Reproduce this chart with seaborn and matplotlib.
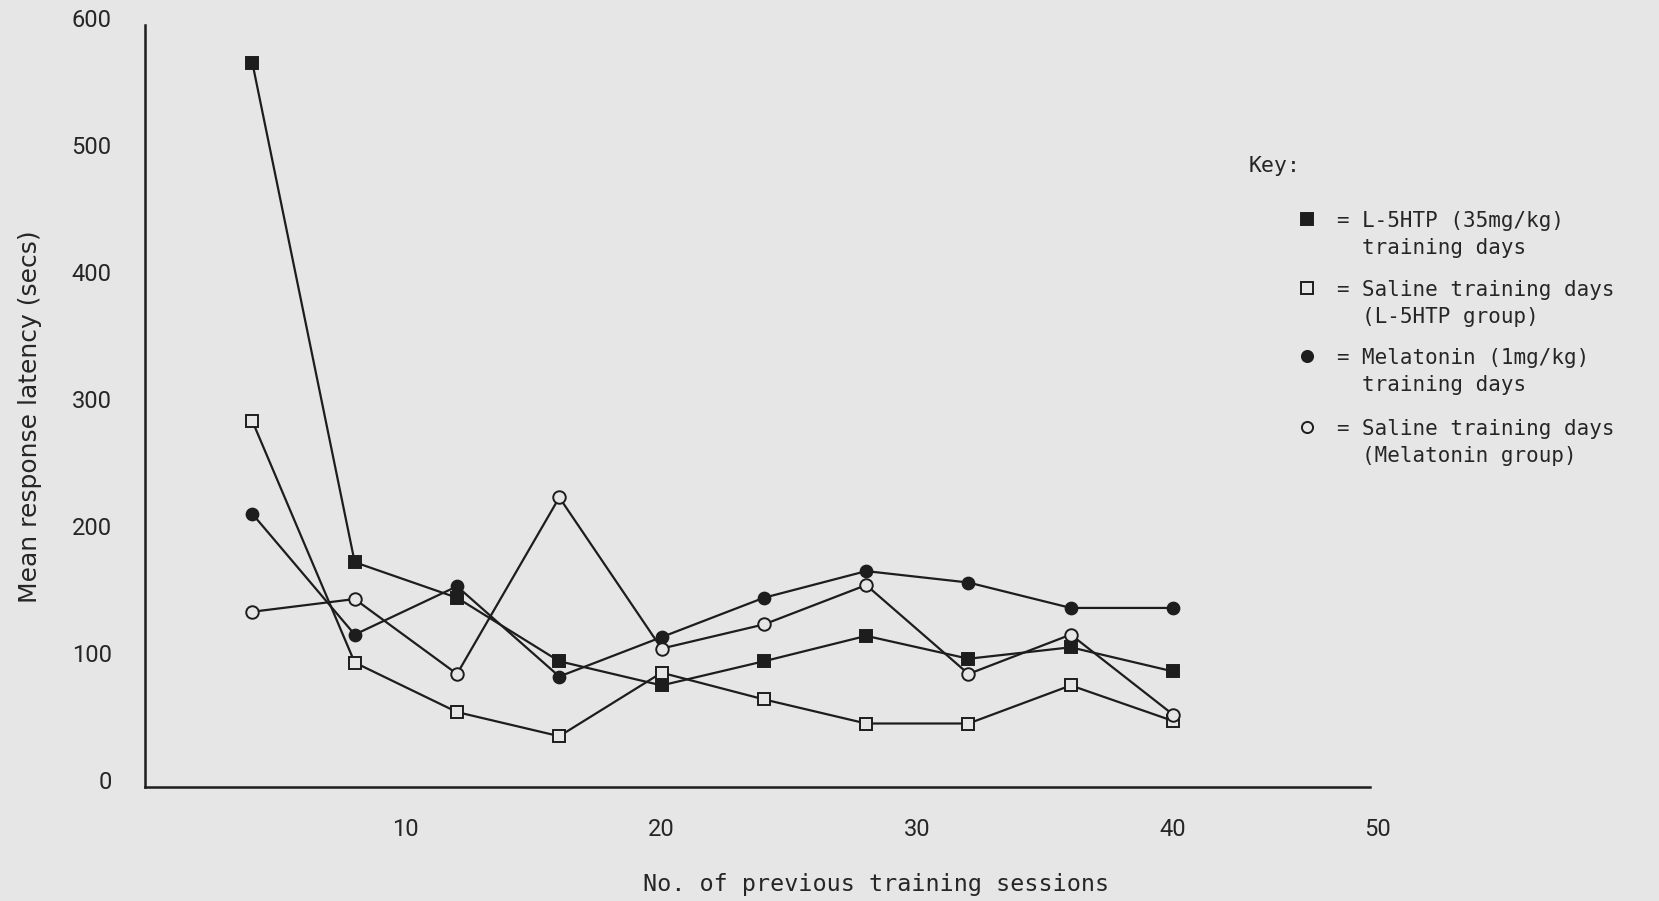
import matplotlib
matplotlib.use("Agg")
import matplotlib.pyplot as plt
import matplotlib.transforms as mtransforms
from matplotlib.lines import Line2D
import seaborn as sns

# --- data -------------------------------------------------------------
sessions = [4, 8, 12, 16, 20, 24, 28, 32, 36, 40]
l5htp = [570, 177, 149, 99, 80, 99, 119, 101, 110, 91]
saline_l5htp = [288, 98, 59, 40, 90, 69, 50, 50, 80, 52]
melatonin = [215, 120, 158, 87, 118, 149, 170, 161, 141, 141]
saline_melatonin = [138, 148, 89, 228, 109, 128, 159, 89, 120, 57]

y_ticks = [0, 100, 200, 300, 400, 500, 600]
x_tick_pos = [10, 20, 30, 40, 47.7]
x_tick_labels = ["10", "20", "30", "40", "50"]

key_labels = [
    ("L-5HTP (35mg/kg)", "training days"),
    ("Saline training days", "(L-5HTP group)"),
    ("Melatonin (1mg/kg)", "training days"),
    ("Saline training days", "(Melatonin group)"),
]

# --- style ------------------------------------------------------------
sns.set_theme(style="white")
plt.rcParams["font.family"] = ["Roboto", "DejaVu Sans"]
MONO = ["DejaVu Sans Mono"]
BG = "#e6e6e6"
INK = "#1d1d1d"
TXT = "#262626"

W, H = 1659, 901
fig = plt.figure(figsize=(W / 100, H / 100), dpi=100, facecolor=BG)
ax_l, ax_r, ax_b, ax_t = 145, 1370, 787, 25
ax = fig.add_axes([ax_l / W, 1 - ax_b / H, (ax_r - ax_l) / W, (ax_b - ax_t) / H])
ax.set_facecolor(BG)

series = [
    (l5htp, "s", INK, 8.5),
    (saline_l5htp, "s", BG, 8.5),
    (melatonin, "o", INK, 8.5),
    (saline_melatonin, "o", BG, 9),
]
for vals, mk, face, ms in series:
    sns.lineplot(
        x=sessions, y=vals, ax=ax, color=INK, linewidth=1.6,
        marker=mk, markersize=ms, markerfacecolor=face,
        markeredgecolor=INK, markeredgewidth=1.4, clip_on=False,
    )

ax.set_xlim(-0.2, 47.7)
ax.set_ylim(0, 600)
for s in ("top", "right"):
    ax.spines[s].set_visible(False)
for s in ("left", "bottom"):
    ax.spines[s].set_color(INK)
    ax.spines[s].set_linewidth(1.8)

ax.set_yticks(y_ticks)
ax.set_yticklabels([str(v) for v in y_ticks])
ax.set_xticks(x_tick_pos)
ax.set_xticklabels(x_tick_labels)
ax.tick_params(axis="both", direction="out", length=3, width=1.2, color=INK,
               labelsize=17, labelcolor=TXT)
ax.tick_params(axis="y", pad=21)
ax.tick_params(axis="x", pad=19)

# y tick labels sit a little above their ticks
lift = mtransforms.ScaledTranslation(0, 0.07, fig.dpi_scale_trans)
for lbl in ax.get_yticklabels():
    lbl.set_transform(lbl.get_transform() + lift)
# the end label of the x axis sits just past its tick
nudge = mtransforms.ScaledTranslation(0.08, 0, fig.dpi_scale_trans)
last = ax.get_xticklabels()[-1]
last.set_transform(last.get_transform() + nudge)

ax.set_ylabel("Mean response latency (secs)", fontsize=18, color=TXT,
              family=["DejaVu Sans"])
ax.yaxis.label.set_va("center")
ax.yaxis.set_label_coords((30 - ax_l) / (ax_r - ax_l), (ax_b - 417) / (ax_b - ax_t))

ax.set_xlabel("No. of previous training sessions", fontsize=16.8, color=TXT,
              family=MONO)
ax.xaxis.label.set_va("center")
ax.xaxis.set_label_coords((876 - ax_l) / (ax_r - ax_l), (ax_b - 884) / (ax_b - ax_t))

# --- key ---------------------------------------------------------------
fig.text(1249 / W, 1 - 164 / H, "Key:", family=MONO, fontsize=15.5, color=TXT,
         ha="left", va="center_baseline")
key_markers = [("s", INK), ("s", BG), ("o", INK), ("o", BG)]
first_rows = [219, 288, 356, 427]
row_gap = 27
for (mk, face), (l1, l2), yrow in zip(key_markers, key_labels, first_rows):
    fig.add_artist(Line2D([1307 / W], [1 - yrow / H], transform=fig.transFigure,
                          marker=mk, markersize=8, markerfacecolor=face,
                          markeredgecolor=INK, markeredgewidth=1.4,
                          linestyle="none"))
    fig.text(1342 / W, 1 - yrow / H, "=", family=MONO, fontsize=15, color=TXT,
             ha="center", va="center_baseline")
    fig.text(1362 / W, 1 - yrow / H, l1, family=MONO, fontsize=15, color=TXT,
             ha="left", va="center_baseline")
    fig.text(1362 / W, 1 - (yrow + row_gap) / H, l2, family=MONO, fontsize=15,
             color=TXT, ha="left", va="center_baseline")

fig.savefig("out.png", dpi=100, facecolor=BG)
